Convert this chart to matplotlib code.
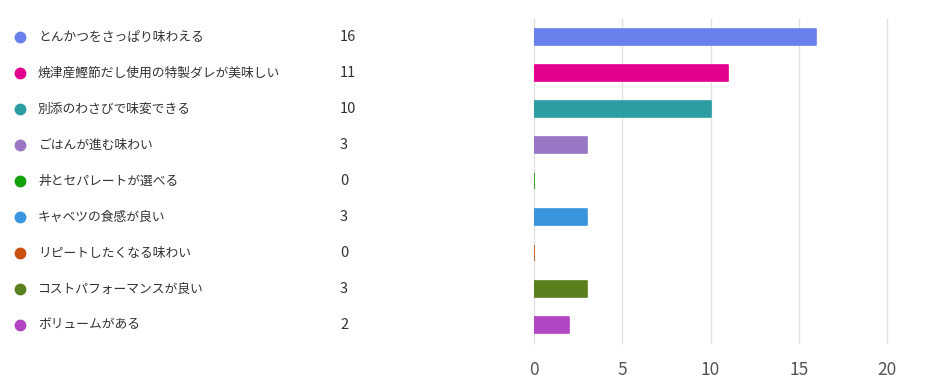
import matplotlib
matplotlib.use("Agg")
import matplotlib.pyplot as plt
import matplotlib.transforms as mtransforms

plt.rcParams['font.family'] = ['Noto Sans CJK JP', 'DejaVu Sans']

# data
labels = ['とんかつをさっぱり味わえる', '焼津産鰹節だし使用の特製ダレが美味しい',
          '別添のわさびで味変できる', 'ごはんが進む味わい', '丼とセパレートが選べる',
          'キャベツの食感が良い', 'リピートしたくなる味わい', 'コストパフォーマンスが良い',
          'ボリュームがある']
counts = [16, 11, 10, 3, 0, 3, 0, 3, 2]
colors = ['#6880ec', '#e3008c', '#2c9ea3', '#9977c4', '#13a10e',
          '#3b95de', '#ca5010', '#5a801e', '#b146c2']
xticks = [0, 5, 10, 15, 20]

fig = plt.figure(figsize=(9.3, 3.9), dpi=100)
ax = fig.add_axes([534/930, 1-343/390, 353/930, 324/390])

ypos = list(range(len(labels)))
ax.barh(ypos, counts, height=0.44, color=colors, edgecolor=colors,
        linewidth=1.2, joinstyle='round', zorder=3)

ax.set_xlim(0, 20)
ax.set_ylim(len(labels)-0.5, -0.5)
ax.set_xticks(xticks)
ax.set_yticks([])
ax.grid(axis='x', color='#e1e1e1', linewidth=1, zorder=0)
for gl in ax.get_xgridlines():
    gl.set_clip_on(False)
for s in ax.spines.values():
    s.set_visible(False)
ax.tick_params(axis='x', length=0, pad=13, labelsize=12.5, labelcolor='#555555')

# legend on the left
trans = mtransforms.blended_transform_factory(fig.transFigure, ax.transData)
for i in range(len(labels)):
    ax.plot([20/930], [i], 'o', transform=trans, color=colors[i],
            markersize=7.5, clip_on=False)
    ax.text(38/930, i, labels[i], transform=trans, va='center', ha='left',
            fontsize=9.2, color='#323232')
    ax.text(340/930, i, str(counts[i]), transform=trans, va='center', ha='left',
            fontsize=10.5, color='#323232')

fig.savefig('out.png', dpi=100)
